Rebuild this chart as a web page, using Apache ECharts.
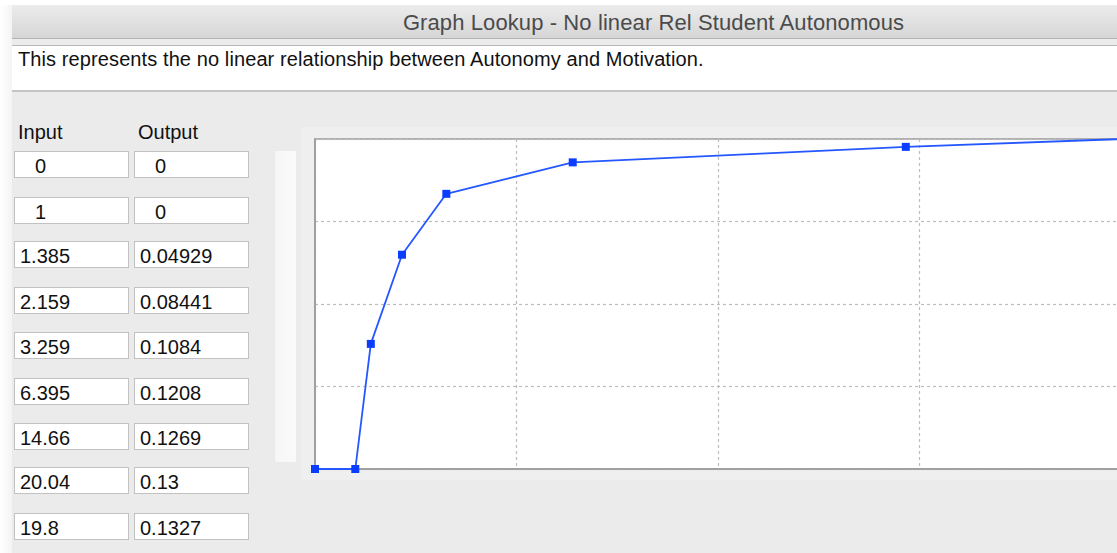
<!DOCTYPE html>
<html>
<head>
<meta charset="utf-8">
<script src="https://cdn.jsdelivr.net/npm/echarts@6/dist/echarts.min.js"></script>
<style>
  html, body { margin: 0; padding: 0; width: 1117px; height: 553px; overflow: hidden; background: #ebebeb; font-family: "Liberation Sans", Arial, sans-serif; }
  #leftstrip { position: absolute; left: 0; top: 0; width: 12px; height: 553px; background: linear-gradient(to right, #ffffff, #f4f4f4); }
  #topstrip { position: absolute; left: 0; top: 0; width: 1117px; height: 5px; background: #fff; }
  #titlebar { position: absolute; left: 12px; top: 5px; width: 1105px; height: 33px; background: linear-gradient(#ececec, #d6d6d6); border-bottom: 1px solid #b2b2b2; }
  #title { position: absolute; left: 12px; top: 5px; width: 1283px; height: 33px; line-height: 35px; text-align: center; font-size: 22px; letter-spacing: 0.1px; color: #4b4b4b; }
  #band { position: absolute; left: 12px; top: 39px; width: 1105px; height: 6px; background: #ececec; border-bottom: 1px solid #b8b8b8; }
  #desc { position: absolute; left: 12px; top: 46px; width: 1105px; height: 44px; background: #fff; border-bottom: 2px solid #c4c4c4; }
  #desctext { position: absolute; left: 18px; top: 48px; font-size: 20px; letter-spacing: 0.1px; color: #111; white-space: nowrap; }
  .hdr { position: absolute; top: 121px; font-size: 20px; color: #111; }
  .cell { position: absolute; width: 113px; height: 25px; background: #fff; border: 1px solid #c2c2c2; box-sizing: content-box; font-size: 20px; line-height: 29px; color: #111; white-space: nowrap; overflow: hidden; }
  #slider { position: absolute; left: 275px; top: 151px; width: 21px; height: 311px; background: linear-gradient(to right, #f6f6f6, #fafafa); }
  #panel { position: absolute; left: 301px; top: 127px; width: 830px; height: 353px; background: #efefef; }
  #chart { position: absolute; left: 301px; top: 127px; width: 830px; height: 353px; }
</style>
</head>
<body>
<div id="leftstrip"></div>
<div id="topstrip"></div>
<div id="titlebar"></div>
<div id="title">Graph Lookup - No linear Rel Student Autonomous</div>
<div id="band"></div>
<div id="desc"></div>
<div id="desctext">This represents the no linear relationship between Autonomy and Motivation.</div>
<div class="hdr" style="left:18px">Input</div>
<div class="hdr" style="left:138px">Output</div>
<div id="table"></div>
<div id="slider"></div>
<div id="panel"></div>
<div id="chart"></div>
<script>
// Lookup data (as listed in the dialog table)
const inputLabels  = ["0", "1", "1.385", "2.159", "3.259", "6.395", "14.66", "20.04", "19.8"];
const outputLabels = ["0", "0", "0.04929", "0.08441", "0.1084", "0.1208", "0.1269", "0.13", "0.1327"];
const inputValues  = [0, 1, 1.385, 2.159, 3.259, 6.395, 14.66, 20.04, 19.8];
const outputValues = [0, 0, 0.04929, 0.08441, 0.1084, 0.1208, 0.1269, 0.13, 0.1327];
const xMin = 0, xMax = 20, xInterval = 5;
const yMin = 0, yMax = 0.13, yInterval = 0.0325;

// table of input/output cells
const rowTops = [151, 197, 241, 287, 332, 378, 423, 467, 513];
const table = document.getElementById('table');
function makeCell(text, left, top) {
  const c = document.createElement('div');
  c.className = 'cell';
  c.style.left = left + 'px'; c.style.top = top + 'px';
  if (text.length === 1) { c.style.textIndent = '20px'; }
  else { c.style.paddingLeft = '5px'; c.style.width = '108px'; }
  c.textContent = text;
  table.appendChild(c);
}
for (let i = 0; i < inputLabels.length; i++) {
  makeCell(inputLabels[i], 14, rowTops[i]);
  makeCell(outputLabels[i], 134, rowTops[i]);
}

const points = inputValues.map((x, i) => [x, outputValues[i]]);
const chart = echarts.init(document.getElementById('chart'), null, { renderer: 'canvas' });
chart.setOption({
  animation: false,
  grid: { left: 14, top: 12, right: 10, bottom: 11, show: true, backgroundColor: '#ffffff', borderColor: '#9a9a9a', borderWidth: 1.5 },
  xAxis: {
    type: 'value', min: xMin, max: xMax, interval: xInterval,
    axisLine: { show: true, onZero: false, lineStyle: { color: '#9a9a9a', width: 1.5 } },
    axisTick: { show: false }, axisLabel: { show: false },
    splitLine: { show: true, lineStyle: { color: '#bdbdbd', type: [3, 3], width: 1.2 } }
  },
  yAxis: {
    type: 'value', min: yMin, max: yMax, interval: yInterval,
    axisLine: { show: true, onZero: false, lineStyle: { color: '#9a9a9a', width: 1.5 } },
    axisTick: { show: false }, axisLabel: { show: false },
    splitLine: { show: true, lineStyle: { color: '#bdbdbd', type: [3, 3], width: 1.2 } }
  },
  series: [{
    type: 'line',
    data: points,
    clip: true,
    symbol: 'rect',
    symbolSize: 8,
    showAllSymbol: true,
    itemStyle: { color: '#0b3dff' },
    lineStyle: { color: '#2457ff', width: 1.8 }
  }]
});
</script>
</body>
</html>
